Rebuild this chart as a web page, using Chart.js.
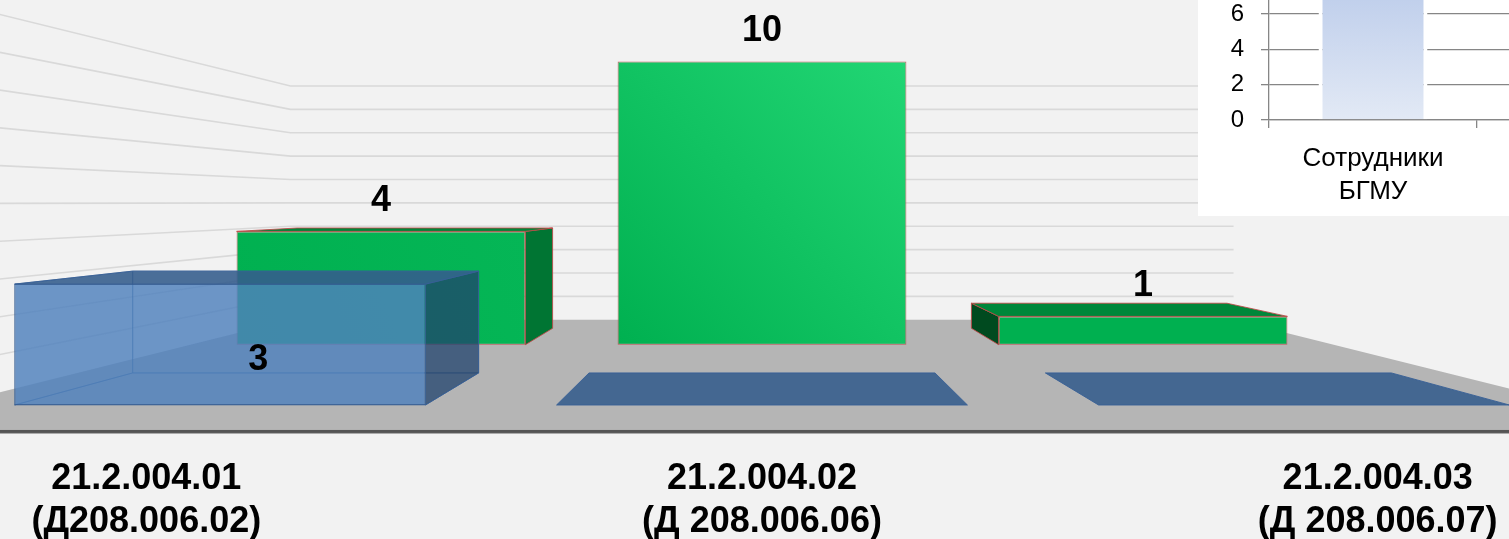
<!DOCTYPE html>
<html lang="ru">
<head>
<meta charset="utf-8">
<title>Диссертационные советы</title>
<script src="https://cdn.jsdelivr.net/npm/chart.js@4.4.1/dist/chart.umd.min.js"></script>
<style>
  html, body { margin: 0; padding: 0; background: #f2f2f2; overflow: hidden; }
  #wrap { position: relative; width: 1509px; height: 539px; }
  #main { position: absolute; left: 0; top: 0; }
  #inset { position: absolute; left: 1198px; top: 0; width: 311px; height: 216px; overflow: hidden; background: #fff; }
  #staff { position: absolute; left: 0; }
</style>
</head>
<body>
<div id="wrap">
  <canvas id="main" width="1509" height="539"></canvas>
  <div id="inset"><canvas id="staff" width="490" height="481"></canvas></div>
</div>
<script>
// шифры советов
const categories = [
  ['21.2.004.01', '(Д208.006.02)'],
  ['21.2.004.02', '(Д 208.006.06)'],
  ['21.2.004.03', '(Д 208.006.07)']
];
const frontValues = [3, 0, 0];   // синий ряд (передний)
const backValues = [4, 10, 1];   // зелёный ряд (задний)
const wallTicks = [1, 2, 3, 4, 5, 6, 7, 8, 9, 10];

// врезка
const staffLabels = [['Сотрудники', 'БГМУ'], ''];
const staffValues = [18, null];
const staffTicks = [0, 2, 4, 6, 8, 10, 12, 14, 16, 18, 20];

const FONT = '"Liberation Sans", Arial, sans-serif';
Chart.defaults.font.family = FONT;

// --- перспектива ---
const W = 1509, H = 539;
const VP = { x: 762, y: 202 };   // точка схода
const BAND = 542;                // шаг категорий в переднем плане
const UNIT = 40.3;               // px на единицу в переднем плане
const BASE = 405;                // линия пола в переднем плане
const MID = (categories.length - 1) / 2;
const BAR_PCT = 0.758;

const DEPTH = { front: 1, back: 0.703, wall: 0.58, floor: 1.123, labels: 1.136 };
const THICK = { front: 0.842, back: 0.885 }; // задняя грань / передняя

// скрытая ось X для ряда на глубине k; деления только на категориях,
// чтобы ширина столбца считалась от шага категорий
function xRange(k) {
  return { type: 'linear', display: false, offset: false, bounds: 'data',
    min: MID - VP.x / (k * BAND), max: MID + (W - VP.x) / (k * BAND),
    afterBuildTicks: s => { s.ticks = categories.map((_, i) => ({ value: i })); } };
}
function yRange(k) {
  const zero = VP.y + k * (BASE - VP.y);
  return { type: 'linear', display: false, bounds: 'data', beginAtZero: false, grace: 0, stacked: false,
    min: (zero - H) / (k * UNIT), max: zero / (k * UNIT) };
}

function toBack(p, d) {
  return { x: VP.x + d * (p.x - VP.x), y: VP.y + d * (p.y - VP.y) };
}

function poly(ctx, pts, fill, stroke, lw) {
  ctx.beginPath();
  pts.forEach((p, i) => i ? ctx.lineTo(p.x, p.y) : ctx.moveTo(p.x, p.y));
  ctx.closePath();
  if (fill) { ctx.fillStyle = fill; ctx.fill(); }
  if (stroke) { ctx.strokeStyle = stroke; ctx.lineWidth = lw || 1; ctx.stroke(); }
}

function barBox(bar) {
  const { x, y, base, width } = bar.getProps(['x', 'y', 'base', 'width'], true);
  return { x, L: x - width / 2, R: x + width / 2, T: Math.min(y, base), B: Math.max(y, base), width };
}

const maxBack = Math.max(...backValues);
function greenFill(c) {
  const chart = c.chart;
  const xs = chart.scales.xBack, ys = chart.scales.yBack;
  if (!xs || !ys || !c.raw) return '#00b050';
  const v = c.raw.y, i = c.raw.x;
  const cx = xs.getPixelForValue(i);
  const half = BAR_PCT * BAND * DEPTH.back / 2;
  const y0 = ys.getPixelForValue(0), y1 = ys.getPixelForValue(v);
  if (![cx, y0, y1].every(Number.isFinite)) return '#00b050';
  const g = chart.ctx.createLinearGradient(cx - half, y0, cx + half, y1);
  const t = Math.pow(v / maxBack, 2);
  const mix = (a, b) => Math.round(a + (b - a) * t);
  g.addColorStop(0, '#00b050');
  g.addColorStop(1, `rgb(${mix(0, 34)},${mix(176, 214)},${mix(80, 116)})`);
  return g;
}

const box3d = {
  id: 'box3d',
  beforeDatasetsDraw(chart) {
    const ctx = chart.ctx;
    const xw = chart.scales.xWall, yw = chart.scales.yWall;
    const u0 = -0.5, u1 = categories.length - 0.5;
    const s = DEPTH.floor / DEPTH.wall;
    ctx.save();
    // пол
    const bl = { x: xw.getPixelForValue(u0), y: yw.getPixelForValue(0) };
    const br = { x: xw.getPixelForValue(u1), y: yw.getPixelForValue(0) };
    const fl = toBack(bl, s), fr = toBack(br, s);
    poly(ctx, [bl, br, fr, fl], '#b5b5b5');
    ctx.fillStyle = '#555';
    ctx.fillRect(0, fl.y, W, 3);
    ctx.fillStyle = '#a9a9a9';
    ctx.fillRect(0, fl.y + 3, W, 1);
    // сетка на задней и левой стенках
    ctx.strokeStyle = '#d9d9d9';
    ctx.lineWidth = 1.6;
    wallTicks.forEach(v => {
      const a = { x: xw.getPixelForValue(u0), y: yw.getPixelForValue(v) };
      const b = { x: xw.getPixelForValue(u1), y: yw.getPixelForValue(v) };
      const f = toBack(a, s);
      ctx.beginPath();
      ctx.moveTo(f.x, f.y);
      ctx.lineTo(a.x, a.y);
      ctx.lineTo(b.x, b.y);
      ctx.stroke();
    });
    ctx.restore();
  },
  beforeDatasetDraw(chart, args) {
    const ds = chart.data.datasets[args.index];
    if (ds.row !== 'front') return;
    const ctx = chart.ctx, d = ds.depthRatio;
    ctx.save();
    args.meta.data.forEach(bar => {
      const b = barBox(bar);
      if (b.B - b.T < 1) return;
      const p = { lt: { x: b.L, y: b.T }, rt: { x: b.R, y: b.T }, rb: { x: b.R, y: b.B }, lb: { x: b.L, y: b.B } };
      const q = { lt: toBack(p.lt, d), rt: toBack(p.rt, d), rb: toBack(p.rb, d), lb: toBack(p.lb, d) };
      const fill = 'rgba(79,129,189,0.12)', edge = 'rgba(55,95,145,0.55)';
      poly(ctx, [q.lt, q.rt, q.rb, q.lb], fill, edge);                 // задняя грань
      poly(ctx, [p.lb, p.rb, q.rb, q.lb], fill, edge);                 // дно
      if (b.x < VP.x) poly(ctx, [p.lt, q.lt, q.lb, p.lb], fill, edge); // левая (скрытая)
      else poly(ctx, [p.rt, q.rt, q.rb, p.rb], fill, edge);
    });
    ctx.restore();
  },
  afterDatasetDraw(chart, args) {
    const ds = chart.data.datasets[args.index];
    const ctx = chart.ctx, d = ds.depthRatio;
    const c = ds.faces;
    ctx.save();
    args.meta.data.forEach(bar => {
      const b = barBox(bar);
      const p = { lt: { x: b.L, y: b.T }, rt: { x: b.R, y: b.T }, rb: { x: b.R, y: b.B }, lb: { x: b.L, y: b.B } };
      const q = { lt: toBack(p.lt, d), rt: toBack(p.rt, d), rb: toBack(p.rb, d), lb: toBack(p.lb, d) };
      if (b.B - b.T >= 1) {
        if (b.x < VP.x - 1) poly(ctx, [p.rt, q.rt, q.rb, p.rb], c.right, c.edge);
        else if (b.x > VP.x + 1) poly(ctx, [p.lt, q.lt, q.lb, p.lb], c.left, c.edge);
      }
      if (b.T > VP.y) poly(ctx, [p.lt, p.rt, q.rt, q.lt], c.top, c.edge);
    });
    ctx.restore();
  },
  afterDraw(chart) {
    const ctx = chart.ctx;
    ctx.save();
    ctx.fillStyle = '#000';
    ctx.textAlign = 'center';
    ctx.textBaseline = 'alphabetic';
    ctx.font = 'bold 36px ' + FONT;
    chart.data.datasets.forEach((ds, di) => {
      const meta = chart.getDatasetMeta(di);
      meta.data.forEach((bar, i) => {
        const v = ds.data[i].y;
        if (!v) return;
        const b = barBox(bar);
        if (ds.row === 'front') ctx.fillText(String(v), b.x + b.width * 0.093, b.T + 86);
        else ctx.fillText(String(v), b.x, b.T - 20);
      });
    });
    // подписи категорий на краю пола
    const xf = chart.scales.xFloor;
    categories.forEach((lines, i) => {
      const x = xf.getPixelForValue(i);
      lines.forEach((t, j) => ctx.fillText(t, x, 489 + j * 43));
    });
    ctx.restore();
  }
};

new Chart(document.getElementById('main'), {
  type: 'bar',
  data: {
    labels: categories,
    datasets: [
      {
        label: 'back', row: 'back', depthRatio: THICK.back, order: 2,
        data: backValues.map((v, i) => ({ x: i, y: v })),
        xAxisID: 'xBack', yAxisID: 'yBack',
        grouped: false, categoryPercentage: 1, barPercentage: BAR_PCT,
        backgroundColor: greenFill,
        borderColor: 'rgba(192,70,70,0.85)', borderWidth: 1, borderSkipped: false,
        faces: { right: '#007533', left: '#004a1f', top: '#00873a', edge: 'rgba(192,70,70,0.85)' }
      },
      {
        label: 'front', row: 'front', depthRatio: THICK.front, order: 1,
        data: frontValues.map((v, i) => ({ x: i, y: v })),
        xAxisID: 'xFront', yAxisID: 'yFront',
        grouped: false, categoryPercentage: 1, barPercentage: BAR_PCT,
        backgroundColor: 'rgba(79,129,189,0.8)',
        borderColor: 'rgba(55,95,150,0.9)', borderWidth: 1, borderSkipped: false,
        faces: { right: 'rgba(31,64,105,0.72)', left: 'rgba(31,64,105,0.72)', top: 'rgba(52,92,140,0.88)', edge: 'rgba(55,95,150,0.9)' }
      }
    ]
  },
  options: {
    responsive: false,
    animation: false,
    events: [],
    layout: { padding: 0 },
    plugins: { legend: { display: false }, tooltip: { enabled: false } },
    scales: {
      xFront: xRange(DEPTH.front),
      xBack: xRange(DEPTH.back),
      xWall: xRange(DEPTH.wall),
      xFloor: xRange(DEPTH.labels),
      yFront: yRange(DEPTH.front),
      yBack: yRange(DEPTH.back),
      yWall: yRange(DEPTH.wall)
    }
  },
  plugins: [box3d]
});

// --- врезка «Сотрудники БГМУ» ---
const INSET_SHIFT = 265;
const staffCanvas = document.getElementById('staff');
staffCanvas.style.top = -INSET_SHIFT + 'px';
const AXIS_GREY = '#868686';

new Chart(staffCanvas, {
  type: 'bar',
  data: {
    labels: staffLabels,
    datasets: [{
      data: staffValues,
      backgroundColor: c => {
        const g = c.chart.ctx.createLinearGradient(0, INSET_SHIFT, 0, INSET_SHIFT + 118);
        g.addColorStop(0, 'rgb(193,208,236)');
        g.addColorStop(1, 'rgb(226,233,245)');
        return g;
      },
      borderColor: '#fff', borderWidth: 4, borderSkipped: 'start',
      categoryPercentage: 1, barPercentage: 0.524
    }]
  },
  options: {
    responsive: false,
    animation: false,
    events: [],
    layout: { padding: { top: 0, right: 3, bottom: 10, left: 0 } },
    plugins: { legend: { display: false }, tooltip: { enabled: false } },
    scales: {
      x: {
        grid: { offset: true, drawOnChartArea: false, tickLength: 8, color: AXIS_GREY, lineWidth: 1.3 },
        border: { color: AXIS_GREY, width: 1.3 },
        ticks: { color: '#000', font: { size: 26, lineHeight: 1.27 }, padding: 14, maxRotation: 0, autoSkip: false },
        afterFit: s => { s.height = 86; }
      },
      y: {
        min: 0, max: 20,
        afterBuildTicks: s => { s.ticks = staffTicks.map(v => ({ value: v })); },
        grid: { color: AXIS_GREY, lineWidth: 1.3, tickLength: 8 },
        border: { color: AXIS_GREY, width: 1.3 },
        ticks: { color: '#000', font: { size: 24 }, padding: 17 },
        afterFit: s => { s.width = 71; }
      }
    }
  }
});
</script>
</body>
</html>
